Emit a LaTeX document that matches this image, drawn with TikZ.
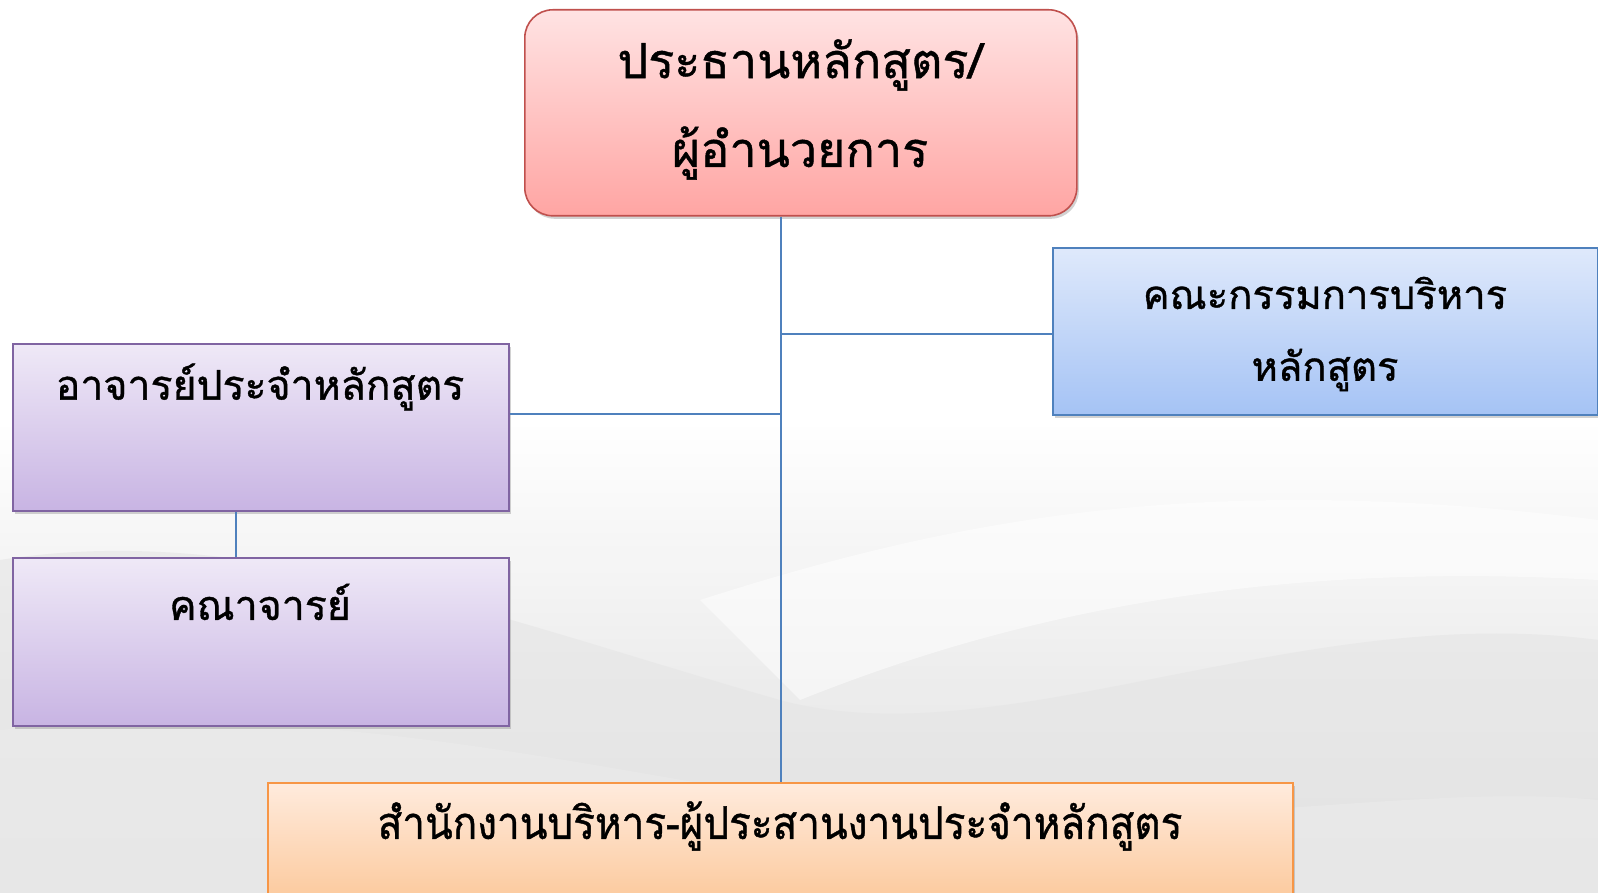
\documentclass[tikz,border=0pt]{standalone}
\usepackage{fontspec}
\newfontfamily\thai[Script=Thai, FakeBold=0.9]{Loma}
\usetikzlibrary{shadows,calc}
\definecolor{linkblue}{HTML}{4F81BD}
\definecolor{redb}{HTML}{C0504D}
\definecolor{redt}{HTML}{FFE3E3}
\definecolor{redbot}{HTML}{FFA5A3}
\definecolor{purb}{HTML}{8064A2}
\definecolor{purt}{HTML}{EFE9F7}
\definecolor{purbot}{HTML}{C8B4E3}
\definecolor{blub}{HTML}{4F81BD}
\definecolor{blut}{HTML}{DFE9FB}
\definecolor{blubot}{HTML}{A5C3F5}
\definecolor{orb}{HTML}{F79646}
\definecolor{ort}{HTML}{FFEBDD}
\definecolor{orbot}{HTML}{FBC08B}
\tikzset{
  box/.style={draw, line width=1.6pt, inner sep=0pt, anchor=north west,
    drop shadow={opacity=0.35, shadow xshift=2pt, shadow yshift=-3pt}},
  redbox/.style={box, draw=redb, top color=redt, bottom color=redbot, rounded corners=28pt},
  purbox/.style={box, draw=purb, top color=purt, bottom color=purbot},
  blubox/.style={box, draw=blub, top color=blut, bottom color=blubot},
  orbox/.style={box, draw=orb, top color=ort, bottom color=orbot},
  lbl/.style={text=black, inner sep=0pt},
  link/.style={draw=linkblue, line width=1.6pt}
}
\begin{document}
\begin{tikzpicture}[x=1pt,y=-1pt]
\useasboundingbox (0,0) rectangle (1598,893);
\clip (0,0) rectangle (1598,893);
% background
\fill[white] (0,0) rectangle (1598,893);
\shade[top color=white, bottom color=black!14, opacity=0.9] (0,420) rectangle (1598,893);
\fill[black!10, opacity=0.6] (0,560) .. controls (250,520) and (500,620) .. (780,700) .. controls (1000,760) and (1300,600) .. (1598,640) -- (1598,893) -- (0,893) -- cycle;
\fill[black!8, opacity=0.6] (0,730) .. controls (300,700) and (550,760) .. (800,800) .. controls (1100,850) and (1400,780) .. (1598,800) -- (1598,893) -- (0,893) -- cycle;
\fill[white, opacity=0.5] (700,600) .. controls (950,520) and (1200,470) .. (1598,520) -- (1598,580) .. controls (1250,560) and (1000,620) .. (800,700) -- cycle;

% boxes
\node[redbox, minimum width=552pt, minimum height=206pt] (top) at (524,9) {};
\node[blubox, minimum width=545pt, minimum height=167pt] (rb) at (1052,247) {};
\node[purbox, minimum width=496pt, minimum height=167pt] (a1) at (12,343) {};
\node[purbox, minimum width=496pt, minimum height=168pt] (a2) at (12,557) {};
\node[orbox, minimum width=1025pt, minimum height=150pt] (bot) at (267,782) {};

% connectors
\coordinate (spine) at (781,0);
\coordinate (ly) at (0,414);
\coordinate (ry) at (0,334);
\coordinate (a1a2) at (236,0);
\path[link] (top.south -| spine) -- (bot.north -| spine);
\path[link] (spine |- ry) -- (rb.west |- ry);
\path[link] (a1.east |- ly) -- (spine |- ly);
\path[link] (a1.south -| a1a2) -- (a2.north -| a1a2);

% labels
\node[lbl, font=\thai\fontsize{48.5}{56}\selectfont] (t1) at (800,65) {ประธานหลักสูตร/};
\node[lbl, font=\thai\fontsize{48.5}{56}\selectfont] (t2) at (800,153) {ผู้อำนวยการ};
\node[lbl, font=\thai\fontsize{40}{48}\selectfont] (r1) at (1325,293) {คณะกรรมการบริหาร};
\node[lbl, font=\thai\fontsize{40}{48}\selectfont] (r2) at (1325,370) {หลักสูตร};
\node[lbl, font=\thai\fontsize{41}{48}\selectfont] (l1) at (260,387) {อาจารย์ประจำหลักสูตร};
\node[lbl, font=\thai\fontsize{41}{48}\selectfont] (l2) at (260,602) {คณาจารย์};
\node[lbl, font=\thai\fontsize{45}{52}\selectfont] (b1) at (780,826) {\scalebox{0.9}[1]{สำนักงานบริหาร-ผู้ประสานงานประจำหลักสูตร}};
\end{tikzpicture}
\end{document}
